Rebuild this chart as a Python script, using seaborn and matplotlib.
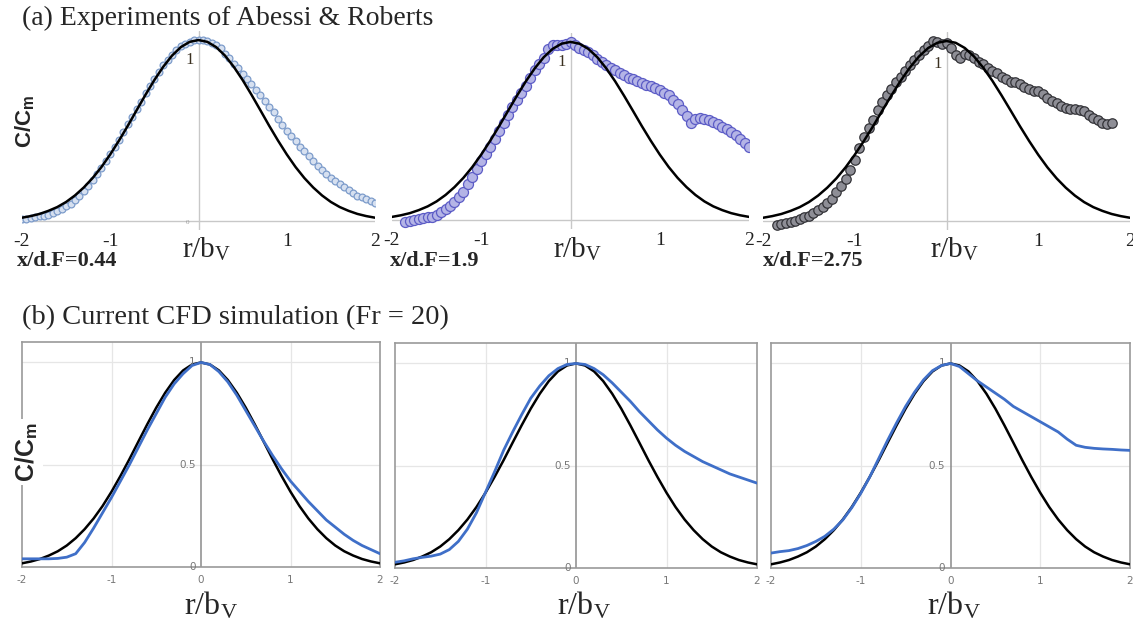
import numpy as np
import matplotlib
matplotlib.use("Agg")
import matplotlib.pyplot as plt
import seaborn as sns

sns.set_theme(style="white")
plt.rcParams['font.family'] = ['Liberation Serif', 'DejaVu Serif']
plt.rcParams['mathtext.fontset'] = 'stix'

# ---------------- data ----------------
# reference (Gaussian-shaped) profile, r step 0.1
r_ref = np.round(np.arange(-2.0, 2.001, 0.1), 2)
c_ref = [0.018, 0.027, 0.039, 0.056, 0.077, 0.105, 0.141, 0.185, 0.237, 0.298,
         0.368, 0.445, 0.527, 0.613, 0.698, 0.779, 0.852, 0.914, 0.961, 0.990,
         1.000,
         0.990, 0.961, 0.914, 0.852, 0.779, 0.698, 0.613, 0.527, 0.445, 0.368,
         0.298, 0.237, 0.185, 0.141, 0.105, 0.077, 0.056, 0.039, 0.027, 0.018]

# experiments (a), r step 0.05
r_exp1 = np.round(np.arange(-2.0, 2.001, 0.05), 2)
c_exp1 = [0.01, 0.01, 0.015, 0.02, 0.025, 0.03, 0.035, 0.045, 0.055, 0.065,
          0.08, 0.095, 0.115, 0.14, 0.165, 0.195, 0.225, 0.26, 0.295, 0.33,
          0.37, 0.41, 0.45, 0.49, 0.535, 0.575, 0.62, 0.66, 0.705, 0.745,
          0.785, 0.825, 0.86, 0.89, 0.92, 0.945, 0.965, 0.98, 0.99, 1.0,
          1.0,
          1.0, 0.995, 0.985, 0.97, 0.955, 0.925, 0.90, 0.87, 0.845, 0.815,
          0.785, 0.755, 0.725, 0.695, 0.665, 0.63, 0.60, 0.565, 0.53, 0.50,
          0.47, 0.44, 0.41, 0.385, 0.36, 0.33, 0.305, 0.28, 0.26, 0.24,
          0.22, 0.205, 0.19, 0.17, 0.155, 0.14, 0.13, 0.12, 0.11, 0.10]

r_exp2 = np.round(np.arange(-1.85, 2.001, 0.05), 2)
c_exp2 = [-0.01, -0.005, 0.0, 0.005, 0.01, 0.015, 0.02, 0.03, 0.045, 0.06,
          0.08, 0.10, 0.13, 0.16, 0.20, 0.24, 0.285, 0.33, 0.37, 0.41,
          0.455, 0.50, 0.545, 0.59, 0.635, 0.675, 0.715, 0.755, 0.80, 0.84,
          0.875, 0.91, 0.96, 0.985, 0.98, 0.985, 0.99, 1.0,
          0.985, 0.965, 0.955, 0.945, 0.925, 0.905, 0.885, 0.87, 0.855, 0.84,
          0.825, 0.815, 0.80, 0.79, 0.78, 0.77, 0.76, 0.75, 0.74, 0.73,
          0.715, 0.70, 0.675, 0.65, 0.62, 0.585, 0.545, 0.565, 0.575, 0.57,
          0.56, 0.55, 0.54, 0.525, 0.51, 0.495, 0.475, 0.455, 0.435, 0.41]

r_exp3 = np.round(np.arange(-1.85, 1.801, 0.05), 2)
c_exp3 = [-0.02, -0.015, -0.01, -0.005, 0.0, 0.01, 0.02, 0.03, 0.045, 0.06,
          0.08, 0.10, 0.125, 0.16, 0.195, 0.235, 0.285, 0.34, 0.405, 0.465,
          0.515, 0.56, 0.615, 0.66, 0.70, 0.735, 0.77, 0.80, 0.835, 0.865,
          0.895, 0.92, 0.95, 0.975, 1.0, 0.995, 0.985, 0.99,
          0.96, 0.92, 0.905, 0.93, 0.92, 0.905, 0.885, 0.87, 0.85, 0.835,
          0.82, 0.80, 0.79, 0.775, 0.77, 0.76, 0.745, 0.735, 0.725, 0.72,
          0.705, 0.685, 0.665, 0.655, 0.64, 0.63, 0.625, 0.62, 0.615, 0.61,
          0.59, 0.57, 0.56, 0.545, 0.54, 0.545]

# CFD simulation (b), r step 0.1
r_cfd = np.round(np.arange(-2.0, 2.001, 0.1), 2)
c_cfd1 = [0.04, 0.04, 0.04, 0.04, 0.042, 0.048, 0.065, 0.12, 0.19, 0.265,
          0.34, 0.42, 0.50, 0.585, 0.67, 0.75, 0.83, 0.895, 0.945, 0.985,
          1.0,
          0.99, 0.955, 0.905, 0.84, 0.765, 0.69, 0.615, 0.545, 0.48, 0.42,
          0.37, 0.32, 0.275, 0.23, 0.195, 0.16, 0.13, 0.105, 0.085, 0.065]
c_cfd2 = [0.028, 0.035, 0.045, 0.052, 0.058, 0.068, 0.09, 0.13, 0.19, 0.27,
          0.37, 0.47, 0.575, 0.665, 0.75, 0.83, 0.89, 0.94, 0.975, 0.995,
          1.0,
          0.995, 0.975, 0.945, 0.905, 0.86, 0.815, 0.765, 0.72, 0.675, 0.635,
          0.60, 0.57, 0.545, 0.52, 0.50, 0.48, 0.46, 0.445, 0.43, 0.415]
c_cfd3 = [0.073, 0.08, 0.085, 0.095, 0.11, 0.13, 0.155, 0.19, 0.235, 0.295,
          0.365, 0.445, 0.535, 0.625, 0.71, 0.79, 0.86, 0.92, 0.965, 0.99,
          1.0,
          0.985, 0.95, 0.915, 0.885, 0.855, 0.825, 0.79, 0.765, 0.74, 0.715,
          0.69, 0.665, 0.63, 0.60, 0.59, 0.585, 0.582, 0.58, 0.577, 0.575]

stations = ["x/d.F=0.44", "x/d.F=1.9", "x/d.F=2.75"]
x_ticks_top = [-2, -1, 1, 2]
x_ticks_bot = [-2, -1, 0, 1, 2]
y_ticks_bot = [0, 0.5, 1]

# ---------------- figure ----------------
W, H = 1133, 627
fig = plt.figure(figsize=(W / 100, H / 100), dpi=100)
fig.patch.set_facecolor("white")


def box(x0, x1, ytop, ybot):
    return [x0 / W, 1 - ybot / H, (x1 - x0) / W, (ybot - ytop) / H]


top_boxes = [box(22, 375, 31, 230), box(392, 749, 33, 229), box(763, 1130, 32, 230)]
bot_boxes = [box(22, 380, 342, 567), box(395, 757, 343, 568), box(771, 1130, 343, 568)]

# (x, y, edge colour, face colour, marker area)
exp_sets = [(r_exp1, c_exp1, "#7d9ccb", "#d6e0f0", 24),
            (r_exp2, c_exp2, "#5c5cc6", "#b4b4e6", 52),
            (r_exp3, c_exp3, "#333338", "#8e8e96", 46)]
label_ys = [0.89, 0.89, 0.875]

for i, b in enumerate(top_boxes):
    ax = fig.add_axes(b)
    ax.set_xlim(-2, 2)
    ax.set_ylim(-0.05, 1.05)
    for s in ax.spines.values():
        s.set_visible(False)
    ax.axhline(0, color="#c8c8c8", lw=1, zorder=1)
    ax.axvline(0, color="#c8c8c8", lw=1, zorder=1)
    rx, cy, ec, fc, ms = exp_sets[i]
    sns.scatterplot(x=rx, y=cy, ax=ax, marker="o", s=ms,
                    facecolor=fc, edgecolor=ec, linewidth=0.9, zorder=2,
                    legend=False)
    sns.lineplot(x=r_ref, y=c_ref, ax=ax, color="black", lw=1.8, zorder=3)
    ax.set_xticks(x_ticks_top)
    ax.set_xticklabels([str(t) for t in x_ticks_top], fontsize=14, color="#222")
    ax.tick_params(axis="x", length=0, pad=2)
    ax.set_yticks([])
    ax.set_xlabel("")
    ax.set_ylabel("")
    ax.text(-0.05, label_ys[i], "1", ha="right", va="center", fontsize=12,
            color="#3a3020")
    if i == 0:
        ax.text(-0.1, -0.01, "0", ha="right", va="center", fontsize=5, color="#999")

# bottom row
cfd_sets = [c_cfd1, c_cfd2, c_cfd3]
for i, b in enumerate(bot_boxes):
    ax = fig.add_axes(b)
    ax.set_xlim(-2, 2)
    ax.set_ylim(0, 1.1)
    for s in ax.spines.values():
        s.set_color("#9a9a9a")
        s.set_linewidth(1.2)
    for gx in [-1, 1]:
        ax.axvline(gx, color="#e6e6e6", lw=0.9, zorder=0)
    for gy in [0.5, 1.0]:
        ax.axhline(gy, color="#e6e6e6", lw=0.9, zorder=0)
    ax.axvline(0, color="#8a8a8a", lw=1.1, zorder=1)
    sns.lineplot(x=r_ref, y=c_ref, ax=ax, color="black", lw=1.8, zorder=3)
    sns.lineplot(x=r_cfd, y=cfd_sets[i], ax=ax, color="#3f6fc8", lw=2.0, zorder=4)
    ax.set_xticks(x_ticks_bot)
    ax.set_xticklabels([str(t) for t in x_ticks_bot], fontsize=7.5, color="#777",
                       family="DejaVu Sans")
    ax.tick_params(axis="x", length=0, pad=6)
    ax.set_yticks([])
    ax.set_xlabel("")
    ax.set_ylabel("")
    for yt in y_ticks_bot:
        ax.text(-0.06, yt, f"{yt:g}", ha="right", va="center", fontsize=7.5,
                color="#777", family="DejaVu Sans")

# texts
fig.text(22 / W, 1 - 18 / H, "(a) Experiments of Abessi & Roberts", fontsize=20,
         ha="left", va="center")
fig.text(22 / W, 1 - 318 / H, "(b) Current CFD simulation (Fr = 20)", fontsize=20.5,
         ha="left", va="center")

fig.text(25 / W, 1 - 121 / H, r"C/C$_\mathregular{m}$", rotation=90, fontsize=16,
         fontweight="bold", family="Liberation Sans", ha="center", va="center")
fig.text(27 / W, 1 - 452 / H, r"C/C$_\mathregular{m}$", rotation=90, fontsize=18,
         fontweight="bold", family="Liberation Sans", ha="center", va="center",
         bbox=dict(facecolor="white", edgecolor="none", pad=2))

for cx in [207, 578, 955]:
    fig.text(cx / W, 1 - 249 / H, r"r/b$_\mathregular{V}$", fontsize=21,
             ha="center", va="center")
for cx in [211, 584, 954]:
    fig.text(cx / W, 1 - 606 / H, r"r/b$_\mathregular{V}$", fontsize=23,
             ha="center", va="center")

for lx, st in zip([17, 390, 763], stations):
    fig.text(lx / W, 1 - 261 / H, st, fontsize=16, fontweight="bold",
             ha="left", va="center")

fig.savefig("out.png", dpi=100, facecolor="white")
